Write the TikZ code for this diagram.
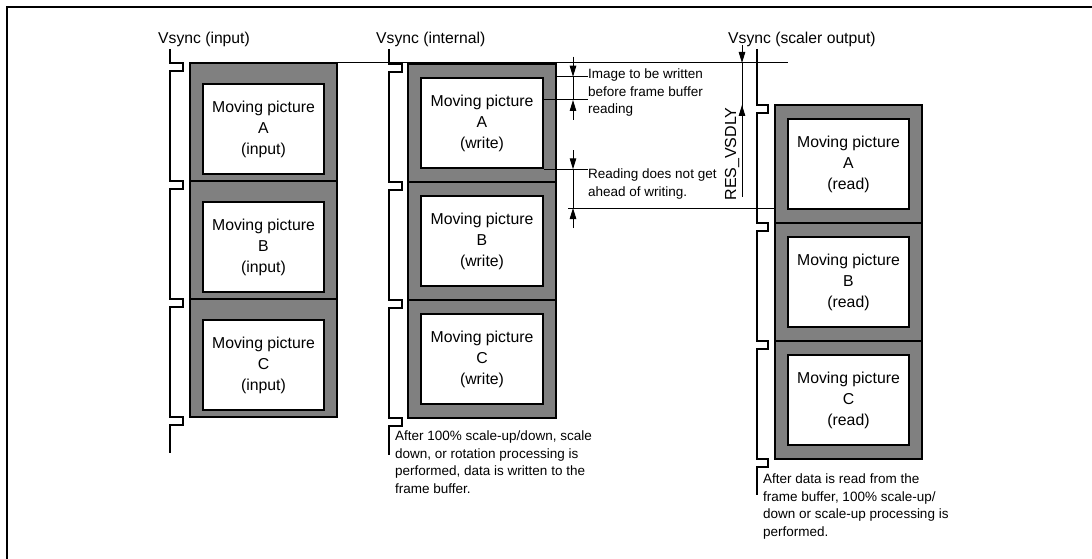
\documentclass[tikz,border=0pt]{standalone}
\usepackage{fontspec}
\setmainfont{Liberation Sans}
\usepackage{tikz}
\usetikzlibrary{arrows.meta, positioning}
\definecolor{framegray}{RGB}{128,128,128}

\begin{document}
\begin{tikzpicture}[x=1pt, y=-1pt,
    filmframe/.style={draw, line width=2pt, fill=framegray, minimum width=147.5, minimum height=118, inner sep=0pt, outer sep=0pt},
    picbox/.style={draw, line width=2pt, fill=white, minimum width=121.5, minimum height=90.5, align=center, inner sep=0pt, font=\fontsize{15.8}{21}\selectfont},
    vlabel/.style={anchor=base west, inner sep=0pt, font=\fontsize{15.7}{18}\selectfont},
    note/.style={anchor=north west, inner sep=0pt, align=left, font=\fontsize{13.5}{17.5}\selectfont},
    sig/.style={line width=2pt},
    guide/.style={line width=1pt},
    dim/.style={line width=1pt, -{Triangle[length=11pt, width=6.5pt]}},
    node distance=0pt
]
    \useasboundingbox (0,0) rectangle (1092,559);
    \draw[line width=2pt] (7,559) -- (7,7) -- (1092,7);

    % Vsync labels
    \node[vlabel] (vin) at (158,44) {Vsync (input)};
    \node[vlabel] (vint) at (376,44) {Vsync (internal)};
    \node[vlabel] (vout) at (728,44) {Vsync (scaler output)};

    % Input frames
    \node[filmframe] (inA) at (263.5,122) {};
    \node[filmframe, below=of inA] (inB) {};
    \node[filmframe, below=of inB] (inC) {};
    \node[picbox] (inApic) at ([yshift=-7pt]inA.center) {Moving picture\\A\\(input)};
    \node[picbox] (inBpic) at ([yshift=-7pt]inB.center) {Moving picture\\B\\(input)};
    \node[picbox] (inCpic) at ([yshift=-7pt]inC.center) {Moving picture\\C\\(input)};

    % Written frames
    \node[filmframe] (wrA) at (482,123) {};
    \node[filmframe, below=of wrA] (wrB) {};
    \node[filmframe, below=of wrB] (wrC) {};
    \node[picbox] (wrApic) at (wrA) {Moving picture\\A\\(write)};
    \node[picbox] (wrBpic) at (wrB) {Moving picture\\B\\(write)};
    \node[picbox] (wrCpic) at (wrC) {Moving picture\\C\\(write)};

    % Read frames
    \node[filmframe] (rdA) at (848.5,164) {};
    \node[filmframe, below=of rdA] (rdB) {};
    \node[filmframe, below=of rdB] (rdC) {};
    \node[picbox] (rdApic) at (rdA) {Moving picture\\A\\(read)};
    \node[picbox] (rdBpic) at (rdB) {Moving picture\\B\\(read)};
    \node[picbox] (rdCpic) at (rdC) {Moving picture\\C\\(read)};

    % Frame borders on top of neighbouring fills
    \foreach \f in {inA,inB,inC,wrA,wrB,wrC,rdA,rdB,rdC}
        \draw[line width=2pt] (\f.north west) rectangle (\f.south east);

    % Vsync signals
    \draw[sig] (170,49) foreach \t in {63,181,299,417} { -- (170,\t) -- ++(13,0) -- ++(0,8) -- ++(-13,0) } -- (170,453);
    \draw[sig] (389,49) foreach \t in {64,182,300,418} { -- (389,\t) -- ++(13,0) -- ++(0,8) -- ++(-13,0) } -- (389,455);
    \draw[sig] (757,49) foreach \t in {105,223,341,459} { -- (757,\t) -- ++(11,0) -- ++(0,8) -- ++(-11,0) } -- (757,495);

    % Notes
    \node[note] (imgnote) at (588,69) {Image to be written\\before frame buffer\\reading};
    \node[note] (aheadnote) at (588,169) {Reading does not get\\ahead of writing.};
    \node[note] (wrnote) at (395,431) {After 100\% scale-up/down, scale\\down, or rotation processing is\\performed, data is written to the\\frame buffer.};
    \node[note] (rdnote) at (763,474) {After data is read from the\\frame buffer, 100\% scale-up/\\down or scale-up processing is\\performed.};

    % Internal Vsync reference line
    \draw[guide] (inA.north east) -- (788,63);

    % Image to be written before reading
    \coordinate (imgtop) at (wrApic.north -| 573,0);
    \coordinate (imgbot) at (573,100);
    \draw[guide] (wrApic.north -| wrA.east) -- (imgtop -| imgnote.west);
    \draw[guide] (wrApic.east |- imgbot) -- (imgbot -| imgnote.west);
    \draw[guide] (imgtop) -- (imgbot);
    \draw[dim] ([yshift=20pt]imgtop) -- (imgtop);
    \draw[dim] ([yshift=-20pt]imgbot) -- (imgbot);

    % Reading does not get ahead of writing
    \coordinate (rdtop) at (wrApic.south -| imgtop);
    \coordinate (rdbot) at (573,208);
    \draw[guide] (wrApic.south east) -- (rdtop -| aheadnote.west);
    \draw[guide] ([xshift=-5pt]rdbot) -- (rdbot -| rdA.west);
    \draw[guide] (rdtop) -- (rdbot);
    \draw[dim] ([yshift=19pt]rdtop) -- (rdtop);
    \draw[dim] ([yshift=-20pt]rdbot) -- (rdbot);

    % RES_VSDLY
    \coordinate (dlytop) at (742,63);
    \coordinate (dlybot) at (rdA.north -| dlytop);
    \draw[guide] (dlytop) -- (742,197);
    \draw[dim] ([yshift=18pt]dlytop) -- (dlytop);
    \draw[dim] ([yshift=-20pt]dlybot) -- (dlybot);
    \node[rotate=90, inner sep=0pt, font=\fontsize{16}{18}\selectfont] (dlylabel) at (732,154) {RES\_VSDLY};

\end{tikzpicture}
\end{document}
